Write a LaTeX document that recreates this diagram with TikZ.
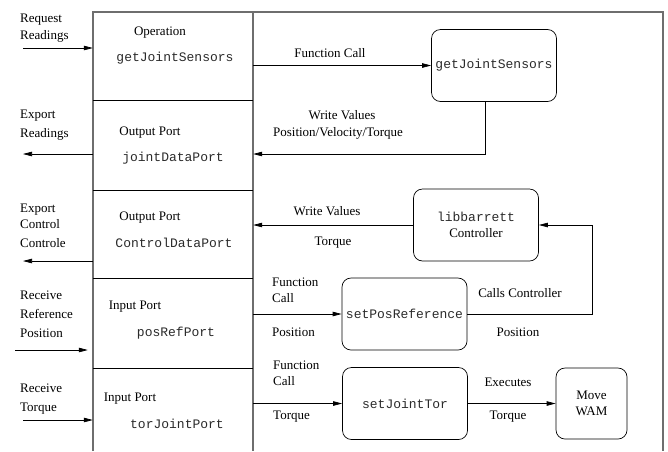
\documentclass[tikz,border=0pt]{standalone}
\usepackage{fontspec}
\setmainfont{Liberation Serif}
\setmonofont{Liberation Mono}
\usetikzlibrary{arrows.meta, positioning, calc}
\definecolor{mFrame}{HTML}{6E6E6E}
\definecolor{mCode}{HTML}{2A2A2A}

\begin{document}
\begin{tikzpicture}[x=1pt, y=-1pt, every node/.style={font=\fontsize{13}{16}\selectfont},
      fn/.style={draw, rounded corners=9pt, line width=0.7pt, minimum width=125pt, minimum height=72pt, inner sep=1pt, align=center},
      cell/.style={minimum width=160pt, inner sep=0pt},
      code/.style={text=mCode, font=\fontsize{13}{16}\selectfont\ttfamily},
      lbl/.style={align=left, anchor=west, inner sep=0pt},
      arr/.style={line width=0.7pt, -{Triangle[length=9pt, width=4.5pt]}}]
    \useasboundingbox (0,0) rectangle (668,451);
    % frame and port column
    \draw[mFrame, line width=1.4pt] (93,451) -- (93,12) -- (663,12) -- (663,451);
    \draw[mFrame, line width=1.2pt] (253,12) -- (253,451);
    \foreach \y in {100,190,278,368} \draw[line width=1pt] (93,\y) -- (253,\y);
    % port cells
    \node[cell, minimum height=88pt]  (opcell)  at (173,56)    {};
    \node[cell, minimum height=90pt]  (jdcell)  at (173,145)   {};
    \node[cell, minimum height=88pt]  (cdcell)  at (173,234)   {};
    \node[cell, minimum height=90pt]  (prcell)  at (173,323)   {};
    \node[cell, minimum height=83pt]  (tjcell)  at (173,409.5) {};
    \node at (160,33)  {Operation};
    \node[code] at (175,58)  {getJointSensors};
    \node at (150,133) {Output Port};
    \node[code] at (173,158) {jointDataPort};
    \node at (150,218) {Output Port};
    \node[code] at (174,243) {ControlDataPort};
    \node at (135,307) {Input Port};
    \node[code] at (176,333) {posRefPort};
    \node at (130,399) {Input Port};
    \node[code] at (177,424) {torJointPort};
    % outside inputs / outputs
    \node[lbl] (reqlbl) at (20,28.5)  {Request\\[1pt]Readings};
    \node[lbl] (explbl) at (20,125.5) {Export\\[3pt]Readings};
    \node[lbl] (ctllbl) at (20,226) {Export\\Control\\[3pt]Controle};
    \node[lbl] (reflbl) at (20,314) {Receive\\[3pt]Reference\\[3pt]Position};
    \node[lbl] (torlbl) at (20,399.5) {Receive\\[3pt]Torque};
    \coordinate (reqin)  at (23,48);
    \coordinate (expout) at (23,154);
    \coordinate (ctlout) at (23,261);
    \coordinate (refin)  at (15,350);
    \coordinate (torin)  at (23,420);
    \draw[arr] (reqin) -- (reqin -| opcell.west);
    \draw[arr] (expout -| jdcell.west) -- (expout);
    \draw[arr] (ctlout -| cdcell.west) -- (ctlout);
    \draw[arr] (refin) -- ([xshift=-5pt]refin -| prcell.west);
    \draw[arr] (torin) -- (torin -| tjcell.west);
    % functions
    \node[fn, code] (getjs)  at (494,65.5)    {getJointSensors};
    \node[fn] (libb)   at (476,225)     {\textcolor{mCode}{\ttfamily libbarrett}\\Controller};
    \node[fn, code] (setpos) at (404.5,314)   {setPosReference};
    \node[fn, code] (setjt)  at (405,403.5)   {setJointTor};
    \node[fn, minimum width=71pt, minimum height=71pt] (wam) at (591.5,403.5) {Move\\WAM};
    \coordinate (jdin) at (jdcell.east |- expout);
    \draw[arr] (getjs.west -| opcell.east) -- (getjs.west);
    \draw[arr] ([xshift=-9pt]getjs.south) |- (jdin);
    \draw[arr] (libb.west) -- (libb.west -| cdcell.east);
    \draw[arr] (setpos.west -| prcell.east) -- (setpos.west);
    \draw[arr] (setpos.east) -| ([xshift=53pt]libb.east) -- (libb.east);
    \draw[arr] (setjt.west -| tjcell.east) -- (setjt.west);
    \draw[arr] (setjt.east) -- (wam.west);
    % connector labels
    \node (fclbl)  at (330,53)  {Function Call};
    \node (wvlbl)  at (342,115) {Write Values};
    \node (pvtlbl) at (338,133) {Position/Velocity/Torque};
    \node (wv2lbl) at (327,211) {Write Values};
    \node (tq1lbl) at (333,243) {Torque};
    \node[lbl] (fc2lbl) at (272,290.5) {Function\\Call};
    \node[lbl] (po1lbl) at (272,332) {Position};
    \node (cclbl)  at (520,293) {Calls Controller};
    \node (po2lbl) at (518,332) {Position};
    \node[lbl] (fc3lbl) at (273,373) {Function\\Call};
    \node[lbl] (tq2lbl) at (273,417) {Torque};
    \node (exlbl)  at (508,382) {Executes};
    \node (tq3lbl) at (508,417) {Torque};
  \end{tikzpicture}
\end{document}
